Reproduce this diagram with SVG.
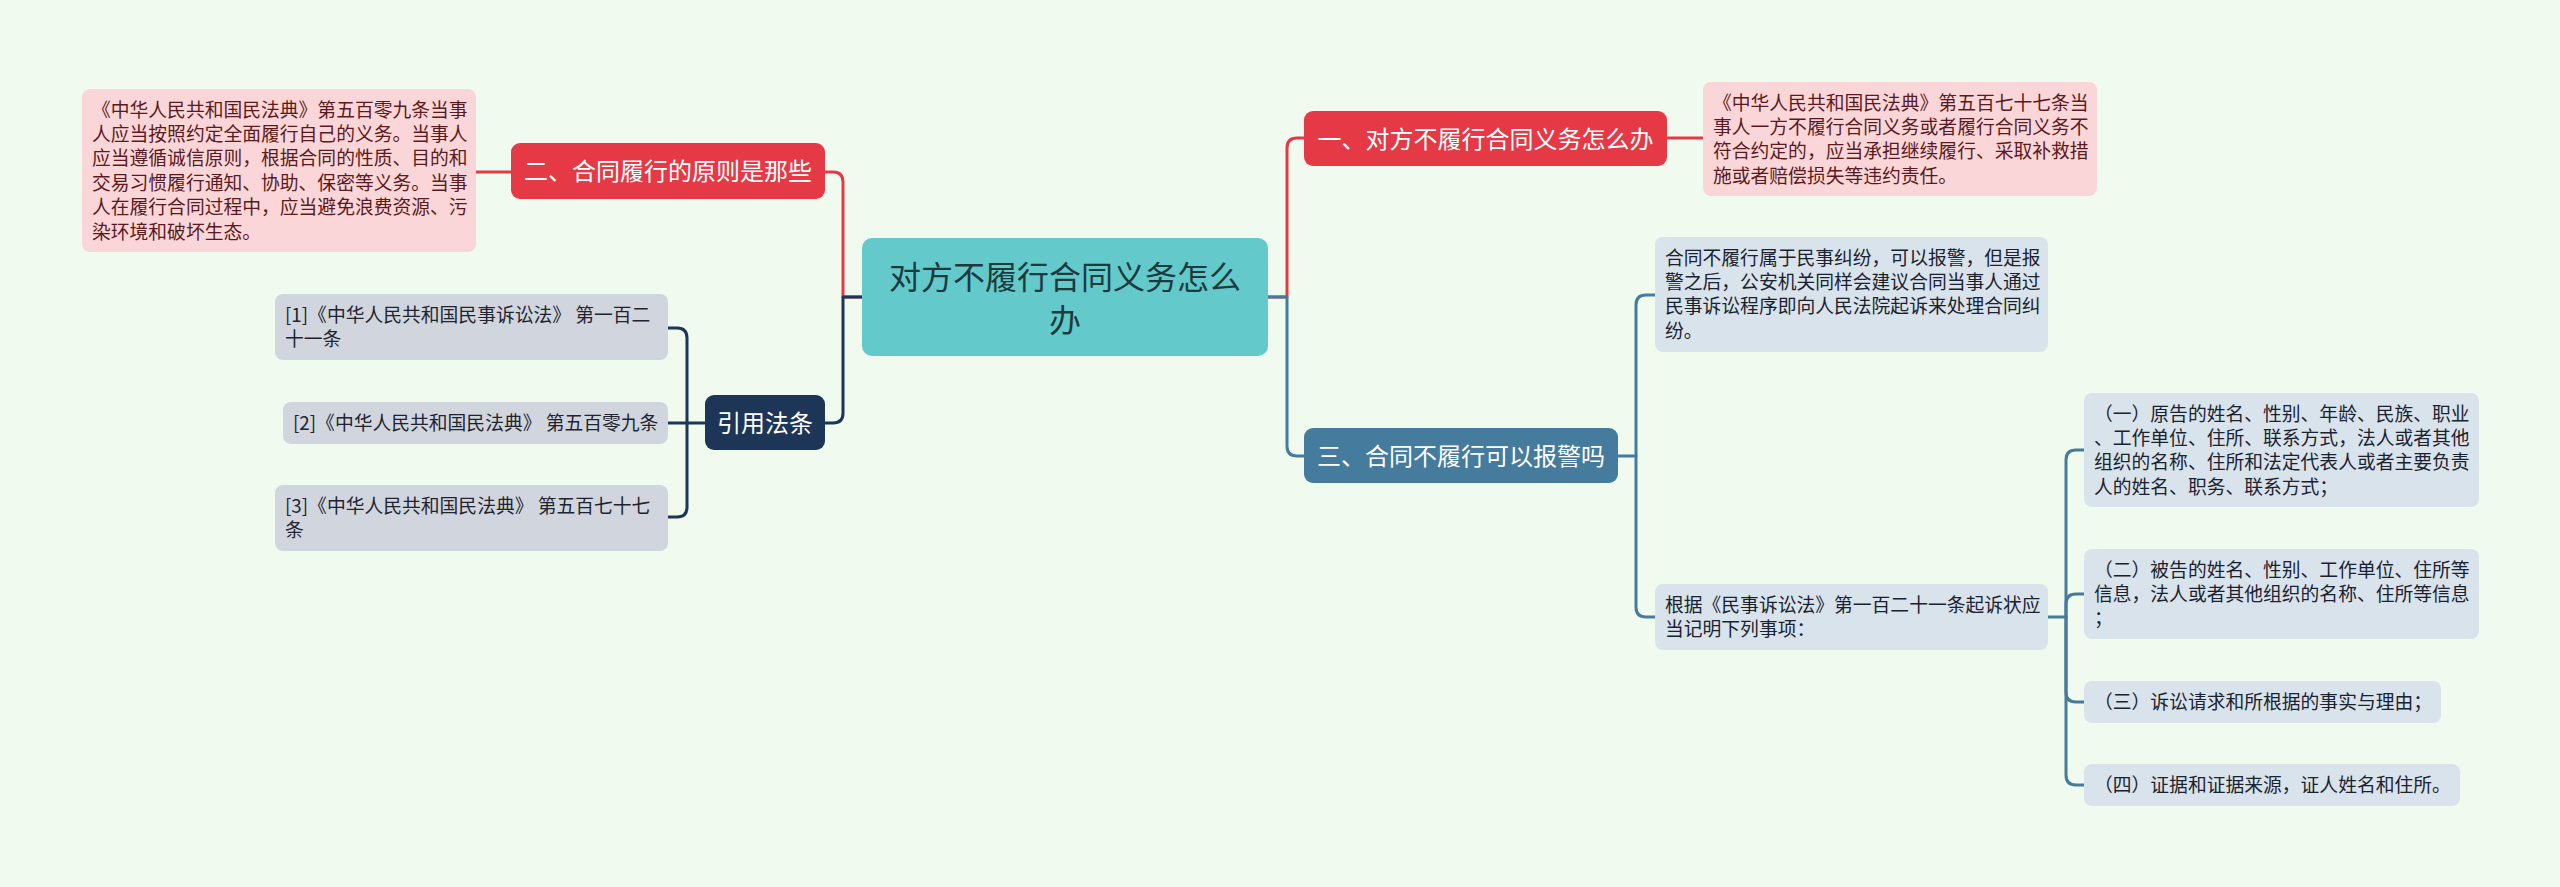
<svg xmlns="http://www.w3.org/2000/svg" width="2560" height="887" viewBox="0 0 2560 887">
<style>
text{font-family:"Noto Sans CJK SC","Noto Sans",sans-serif;}
.leaf{font-size:18.8px;}
.pink{fill:#fad6d9;}
.pinkt{fill:#5a1a20;}
.grey{fill:#d1d6de;}
.greyt{fill:#1f2430;}
.bgrey{fill:#d9e3eb;}
.bgreyt{fill:#1a2230;}
.main{font-size:24px;fill:#ffffff;text-anchor:middle;}
.c{fill:none;stroke-width:3;stroke-linecap:round;stroke-linejoin:round;}
.red{stroke:#e63946;}
.navy{stroke:#1d3557;}
.blue{stroke:#457b9d;}
</style>
<rect width="2560" height="887" fill="#f1faee"/>
<g id="connectors">
<path class="c red" d="M862,297 H843 V182 Q843,172 833,172 H825"/>
<path class="c red" d="M476,172 H511"/>
<path class="c navy" d="M862,297 H843 V413 Q843,423 833,423 H825"/>
<path class="c navy" d="M705,423 H668"/>
<path class="c navy" d="M687,423 V338 Q687,328 677,328 H668"/>
<path class="c navy" d="M687,423 V507 Q687,517 677,517 H668"/>
<path class="c red" d="M1268,297 H1287 V148 Q1287,138 1297,138 H1304"/>
<path class="c red" d="M1667,138 H1703"/>
<path class="c blue" d="M1268,297 H1287 V446 Q1287,456 1297,456 H1304"/>
<path class="c blue" d="M1618,456 H1636 V305 Q1636,295 1646,295 H1655"/>
<path class="c blue" d="M1636,456 V607 Q1636,617 1646,617 H1655"/>
<path class="c blue" d="M2048,617 H2066 V460 Q2066,450 2076,450 H2084"/>
<path class="c blue" d="M2066,617 V604 Q2066,594 2076,594 H2084"/>
<path class="c blue" d="M2066,617 V692 Q2066,702 2076,702 H2084"/>
<path class="c blue" d="M2066,617 V775 Q2066,785 2076,785 H2084"/>
</g>
<g id="center">
<rect x="862" y="238" width="406" height="118" rx="10" fill="#63c9cb"/>
<text x="1065" y="289" font-size="32" fill="#1c3b3d" text-anchor="middle">对方不履行合同义务怎么</text>
<text x="1065" y="332" font-size="32" fill="#1c3b3d" text-anchor="middle">办</text>
</g>
<g id="n2">
<rect x="511" y="143" width="314" height="56" rx="9" fill="#e63946"/>
<text class="main" x="668" y="180">二、合同履行的原则是那些</text>
</g>
<g id="n2-detail">
<rect class="pink" x="82" y="89" width="394" height="163" rx="8"/>
<text class="leaf pinkt" x="92" y="116.5">《中华人民共和国民法典》第五百零九条当事</text>
<text class="leaf pinkt" x="92" y="140.9">人应当按照约定全面履行自己的义务。当事人</text>
<text class="leaf pinkt" x="92" y="165.3">应当遵循诚信原则，根据合同的性质、目的和</text>
<text class="leaf pinkt" x="92" y="189.7">交易习惯履行通知、协助、保密等义务。当事</text>
<text class="leaf pinkt" x="92" y="214.1">人在履行合同过程中，应当避免浪费资源、污</text>
<text class="leaf pinkt" x="92" y="238.5">染环境和破坏生态。</text>
</g>
<g id="refs">
<rect x="705" y="395" width="120" height="55" rx="9" fill="#1d3557"/>
<text class="main" x="765" y="431.5">引用法条</text>
</g>
<g id="ref1">
<rect class="grey" x="275" y="294" width="393" height="66" rx="8"/>
<text class="leaf greyt" x="285" y="321.5">[1]《中华人民共和国民事诉讼法》 第一百二</text>
<text class="leaf greyt" x="285" y="345.9">十一条</text>
</g>
<g id="ref2">
<rect class="grey" x="283" y="402" width="385" height="42" rx="8"/>
<text class="leaf greyt" x="293" y="429.5">[2]《中华人民共和国民法典》 第五百零九条</text>
</g>
<g id="ref3">
<rect class="grey" x="275" y="485" width="393" height="66" rx="8"/>
<text class="leaf greyt" x="285" y="512.5">[3]《中华人民共和国民法典》 第五百七十七</text>
<text class="leaf greyt" x="285" y="536.9">条</text>
</g>
<g id="n1">
<rect x="1304" y="111" width="363" height="55" rx="9" fill="#e63946"/>
<text class="main" x="1485.5" y="147.5">一、对方不履行合同义务怎么办</text>
</g>
<g id="n1-detail">
<rect class="pink" x="1703" y="82" width="394" height="114" rx="8"/>
<text class="leaf pinkt" x="1713" y="109.5">《中华人民共和国民法典》第五百七十七条当</text>
<text class="leaf pinkt" x="1713" y="133.9">事人一方不履行合同义务或者履行合同义务不</text>
<text class="leaf pinkt" x="1713" y="158.3">符合约定的，应当承担继续履行、采取补救措</text>
<text class="leaf pinkt" x="1713" y="182.7">施或者赔偿损失等违约责任。</text>
</g>
<g id="n3">
<rect x="1304" y="428" width="314" height="55" rx="9" fill="#457b9d"/>
<text class="main" x="1461" y="464.5">三、合同不履行可以报警吗</text>
</g>
<g id="n3-a">
<rect class="bgrey" x="1655" y="237" width="393" height="115" rx="8"/>
<text class="leaf bgreyt" x="1665" y="264.5">合同不履行属于民事纠纷，可以报警，但是报</text>
<text class="leaf bgreyt" x="1665" y="288.9">警之后，公安机关同样会建议合同当事人通过</text>
<text class="leaf bgreyt" x="1665" y="313.3">民事诉讼程序即向人民法院起诉来处理合同纠</text>
<text class="leaf bgreyt" x="1665" y="337.7">纷。</text>
</g>
<g id="n3-b">
<rect class="bgrey" x="1655" y="584" width="393" height="66" rx="8"/>
<text class="leaf bgreyt" x="1665" y="611.5">根据《民事诉讼法》第一百二十一条起诉状应</text>
<text class="leaf bgreyt" x="1665" y="635.9">当记明下列事项：</text>
</g>
<g id="item1">
<rect class="bgrey" x="2084" y="393" width="395" height="114" rx="8"/>
<text class="leaf bgreyt" x="2094" y="420.5">（一）原告的姓名、性别、年龄、民族、职业</text>
<text class="leaf bgreyt" x="2094" y="444.9">、工作单位、住所、联系方式，法人或者其他</text>
<text class="leaf bgreyt" x="2094" y="469.3">组织的名称、住所和法定代表人或者主要负责</text>
<text class="leaf bgreyt" x="2094" y="493.7">人的姓名、职务、联系方式；</text>
</g>
<g id="item2">
<rect class="bgrey" x="2084" y="549" width="395" height="90" rx="8"/>
<text class="leaf bgreyt" x="2094" y="576.5">（二）被告的姓名、性别、工作单位、住所等</text>
<text class="leaf bgreyt" x="2094" y="600.9">信息，法人或者其他组织的名称、住所等信息</text>
<text class="leaf bgreyt" x="2094" y="625.3">；</text>
</g>
<g id="item3">
<rect class="bgrey" x="2084" y="681" width="357" height="42" rx="8"/>
<text class="leaf bgreyt" x="2094" y="708.5">（三）诉讼请求和所根据的事实与理由；</text>
</g>
<g id="item4">
<rect class="bgrey" x="2084" y="764" width="376" height="42" rx="8"/>
<text class="leaf bgreyt" x="2094" y="791.5">（四）证据和证据来源，证人姓名和住所。</text>
</g>
</svg>
